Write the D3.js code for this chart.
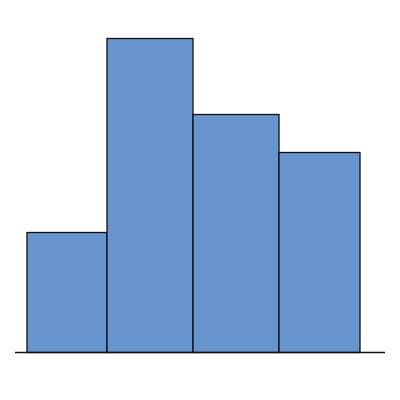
<!DOCTYPE html>
<html>
<head>
<meta charset="utf-8">
<script src="https://cdn.jsdelivr.net/npm/d3@7"></script>
<style>
  html, body { margin: 0; padding: 0; background: #fff; }
</style>
</head>
<body>
<svg></svg>
<script>
const width = 400,
  height = 400;

// Bin edges and bar heights (data units)
const binEdges = [1.2, 9.2, 17.8, 26.4, 34.5];
const counts = [12, 31.4, 23.8, 20];

const svg = d3.select("svg")
  .attr("width", width)
  .attr("height", height);

const x = d3.scaleLinear().domain([0, 37]).range([15, 385]);
const y = d3.scaleLinear().domain([0, 35]).range([352.5, 2.5]);

const bins = counts.map((c, i) => ({ x0: binEdges[i], x1: binEdges[i + 1], v: c }));

svg.selectAll("rect.bar")
  .data(bins)
  .enter()
  .append("rect")
  .attr("class", "bar")
  .attr("x", d => x(d.x0))
  .attr("width", d => x(d.x1) - x(d.x0))
  .attr("y", d => y(d.v))
  .attr("height", d => y(0) - y(d.v))
  .attr("fill", "#6696cd")
  .attr("stroke", "#111")
  .attr("stroke-width", 1.3);

// baseline
svg.append("line")
  .attr("x1", x(0))
  .attr("x2", x(37))
  .attr("y1", y(0))
  .attr("y2", y(0))
  .attr("stroke", "#111")
  .attr("stroke-width", 1.6);
</script>
</body>
</html>
